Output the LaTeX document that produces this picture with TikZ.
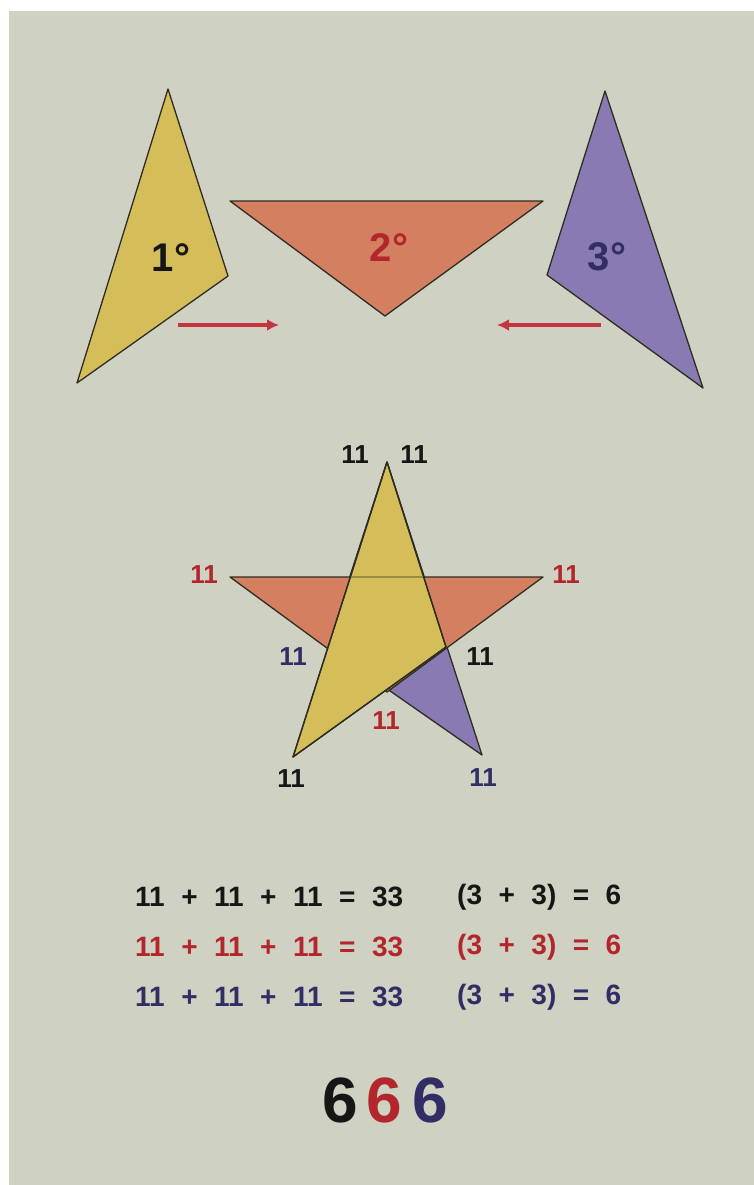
\documentclass[tikz,border=0pt]{standalone}
\usepackage{fontspec}
\setmainfont{Liberation Sans}
\usetikzlibrary{arrows.meta}

\definecolor{bgpanel}{RGB}{207,209,194}
\definecolor{triyellow}{RGB}{213,189,90}
\definecolor{triorange}{RGB}{212,128,96}
\definecolor{tripurple}{RGB}{138,122,180}
\definecolor{numred}{RGB}{178,38,44}
\definecolor{numblue}{RGB}{48,46,100}
\definecolor{numblack}{RGB}{22,22,22}
\definecolor{arrowred}{RGB}{196,52,66}
\definecolor{edgecol}{RGB}{45,45,35}

\begin{document}
\begin{tikzpicture}[
        x=1pt, y=-1pt,
        tri/.style={draw=edgecol, line width=1.3pt, line join=round},
        deg/.style={font=\fontsize{40}{40}\selectfont\bfseries, inner sep=0pt},
        num/.style={font=\fontsize{26}{26}\selectfont\bfseries, inner sep=0pt},
        eqn/.style={font=\fontsize{28}{28}\selectfont\bfseries, inner sep=0pt, anchor=west,
            execute at begin node={\spaceskip=16.5pt\relax}},
        big/.style={font=\fontsize{64}{64}\selectfont\bfseries, inner sep=0pt},
        push/.style={-{Latex[length=12pt,width=12pt]}, line width=4pt, arrowred},
    ]
    \useasboundingbox (0,0) rectangle (754,1185);
    \fill[bgpanel] (9,11) rectangle (754,1185);

    % === Pieces apart ===
    \draw[tri, fill=triyellow] (168,89) -- (228,276) -- (77,383) -- cycle;
    \draw[tri, fill=triorange] (230,201) -- (543,201) -- (385,316) -- cycle;
    \draw[tri, fill=tripurple] (605,91) -- (547,275) -- (703,388) -- cycle;

    \node[deg, numblack] (first) at (171,258) {1°};
    \node[deg, numred] (second) at (389,248) {2°};
    \node[deg, numblue] (third) at (607,257) {3°};

    \coordinate (lfrom) at (178,325);
    \coordinate (lto) at (279,325);
    \coordinate (rfrom) at (601,325);
    \coordinate (rto) at (497,325);
    \draw[push] (lfrom) -- (lto);
    \draw[push] (rfrom) -- (rto);

    % === Star ===
    \coordinate (stop) at (387,462);
    \coordinate (sright) at (446,647);
    \coordinate (sfoot) at (293,757);
    \coordinate (wingl) at (230,577);
    \coordinate (wingr) at (543,577);
    \draw[tri, fill=tripurple] (stop) -- (327,647) -- (482,755) -- cycle;
    \draw[tri, fill=triorange] (wingl) -- (wingr) -- (387,692) -- cycle;
    \draw[tri, fill=triyellow] (stop) -- (sright) -- (sfoot) -- cycle;
    \begin{scope}
        \clip (stop) -- (sright) -- (sfoot) -- cycle;
        \draw[edgecol!35!triyellow, line width=1.3pt] (wingl) -- (wingr);
    \end{scope}
    \draw[tri] (stop) -- (sright) -- (sfoot) -- cycle;

    \node[num, numblack] (topl) at (355,455) {11};
    \node[num, numblack] (topr) at (414,455) {11};
    \node[num, numred] (lwing) at (204,575) {11};
    \node[num, numred] (rwing) at (566,575) {11};
    \node[num, numblue] (innl) at (293,657) {11};
    \node[num, numblack] (innr) at (480,657) {11};
    \node[num, numred] (innb) at (386,721) {11};
    \node[num, numblack] (footl) at (291,779) {11};
    \node[num, numblue] (footr) at (483,778) {11};

    % === Sums ===
    \node[eqn, numblack] (suma) at (135,897) {11 + 11 + 11 = 33};
    \node[eqn, numred] (sumb) at (135,947) {11 + 11 + 11 = 33};
    \node[eqn, numblue] (sumc) at (135,997) {11 + 11 + 11 = 33};
    \node[eqn, numblack] (pairsa) at (457,897) {(3 + 3) = 6};
    \node[eqn, numred] (pairsb) at (457,947) {(3 + 3) = 6};
    \node[eqn, numblue] (pairsc) at (457,997) {(3 + 3) = 6};

    \node[big, numblack] (sixa) at (340,1100) {6};
    \node[big, numred] (sixb) at (384,1100) {6};
    \node[big, numblue] (sixc) at (430,1100) {6};
\end{tikzpicture}
\end{document}
